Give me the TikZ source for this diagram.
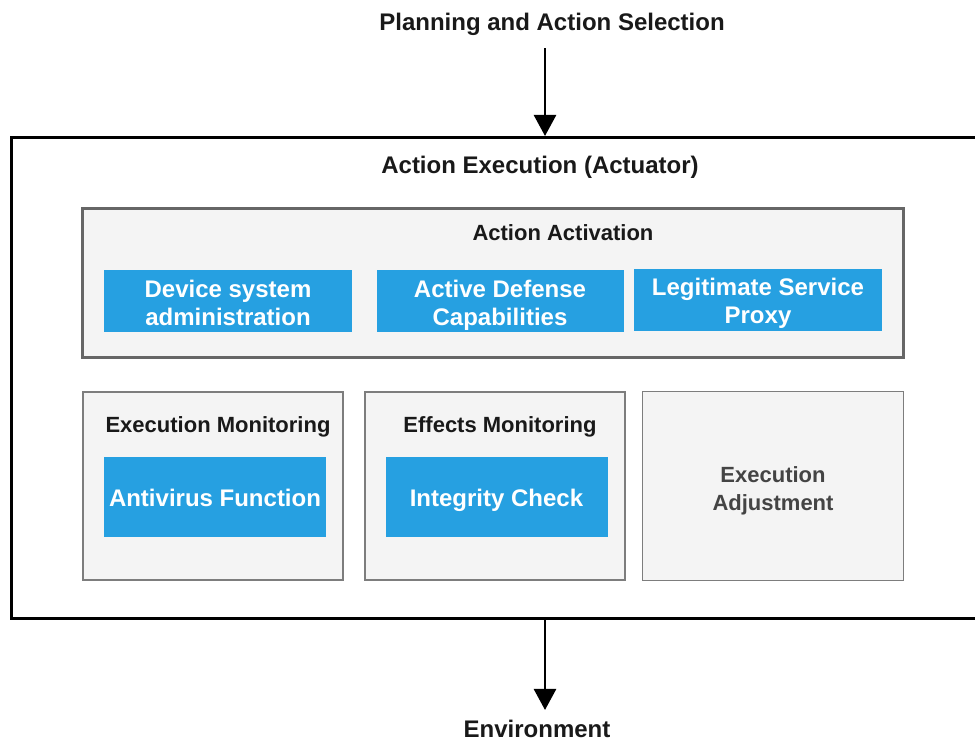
\documentclass[tikz,border=0pt]{standalone}
\usepackage{fontspec}
\setmainfont{Liberation Sans}
\usetikzlibrary{arrows.meta,positioning}
\definecolor{aeblue}{RGB}{38,160,225}
\definecolor{aegray}{RGB}{244,244,244}
\definecolor{aeborder}{RGB}{102,102,102}
\definecolor{aeborderlight}{RGB}{125,125,125}
\definecolor{aetext}{RGB}{68,68,68}
\tikzstyle{arrow} = [line width=2.6pt,-{Triangle[length=21pt,width=22pt]},color=black]
\tikzstyle{outerbox} = [rectangle, draw=black, line width=3pt, fill=white, inner sep=0pt]
\tikzstyle{groupbox} = [rectangle, draw=aeborder, line width=3pt, fill=aegray, inner sep=0pt]
\tikzstyle{panelbox} = [rectangle, draw=aeborderlight, line width=1.5pt, fill=aegray, inner sep=0pt]
\tikzstyle{bluebox} = [rectangle, fill=aeblue, inner sep=0pt]
\tikzstyle{bluetext} = [text=white, font=\bfseries\fontsize{24}{28}\selectfont, align=center, inner sep=0pt]
\tikzstyle{headtext} = [font=\bfseries\fontsize{24}{28}\selectfont, text=black!90, inner sep=0pt]
\tikzstyle{subtext} = [font=\bfseries\fontsize{22}{28}\selectfont, text=black!90, inner sep=0pt]

\begin{document}
\begin{tikzpicture}[x=1pt,y=-1pt]
\clip (0,0) rectangle (975,741);
\fill[white] (0,0) rectangle (975,741);

% Planning
\node[headtext] (plan) at (552,24) {Planning and Action Selection};

% Actuator
\node[outerbox, minimum width=984pt, minimum height=481pt] (actuator) at (503,378) {};
\node[headtext] (actuatortitle) at (540,167) {Action Execution (Actuator)};
\coordinate (intop) at ([xshift=42pt]actuator.north);
\coordinate (outbot) at ([xshift=42pt]actuator.south);

% Action Activation
\node[groupbox, minimum width=821pt, minimum height=149.5pt] (activation) at (493,282.75) {};
\node[subtext] (activationtitle) at (563,233) {Action Activation};
\node[bluebox, minimum width=248pt, minimum height=62pt] (device) at (228,301) {};
\node[bluetext] (devicetext) at ([yshift=-2pt]device) {Device system\\administration};
\node[bluebox, minimum width=247pt, minimum height=62pt] (defense) at (500,301) {};
\node[bluetext] (defensetext) at ([yshift=-4pt]defense) {Active Defense\\Capabilities};
\node[bluebox, minimum width=248pt, minimum height=62pt] (proxy) at (758,300) {};
\node[bluetext] (proxytext) at ([yshift=-3pt]proxy) {Legitimate Service\\Proxy};

% Execution Monitoring
\node[panelbox, minimum width=260pt, minimum height=188pt] (execmon) at (213,486) {};
\node[subtext] (execmontitle) at (218,427) {Execution Monitoring};
\node[bluebox, minimum width=222pt, minimum height=80pt] (antivirus) at (215,497) {};
\node[bluetext] (antivirustext) at ([yshift=-1pt]antivirus) {Antivirus Function};

% Effects Monitoring
\node[panelbox, minimum width=260pt, minimum height=188pt] (effmon) at (495,486) {};
\node[subtext] (effmontitle) at (500,427) {Effects Monitoring};
\node[bluebox, minimum width=222pt, minimum height=80pt] (integrity) at (496.5,497) {};
\node[bluetext] (integritytext) at ([yshift=-3pt]integrity) {Integrity Check};

% Execution Adjustment
\node[panelbox, minimum width=261pt, minimum height=189pt] (adjust) at (773,486) {};
\node[subtext, text=aetext, align=center] (adjusttext) at (773,491) {Execution\\Adjustment};

% Environment
\node[headtext] (env) at (537,729) {Environment};

\draw[arrow] ([yshift=-13pt]plan.south -| intop) -- (intop);
\draw[arrow] (outbot) -- ([yshift=10pt]env.north -| outbot);
\end{tikzpicture}
\end{document}
